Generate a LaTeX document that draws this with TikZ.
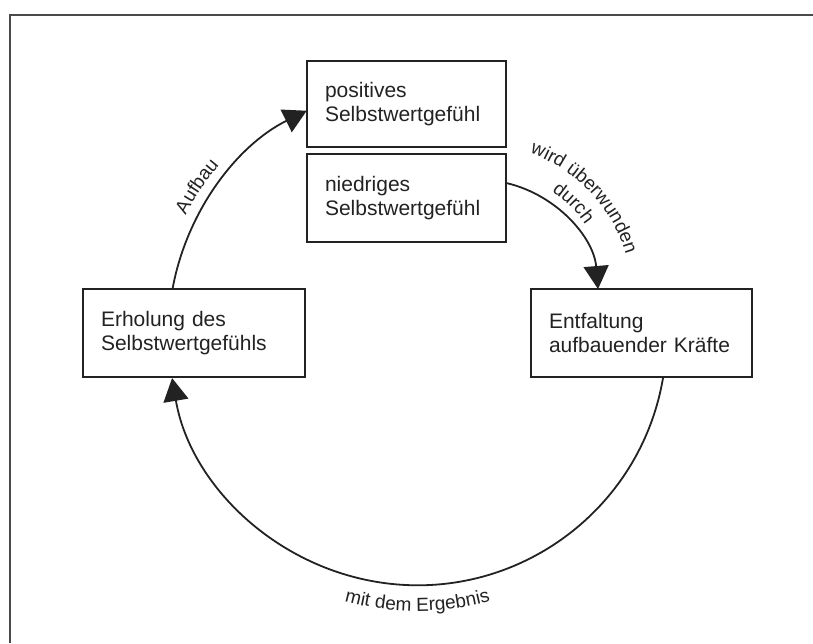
\documentclass[tikz,border=0pt]{standalone}
\usepackage{fontspec}
\setmainfont{Liberation Sans}
\usetikzlibrary{arrows.meta,decorations.text,calc}
\newcommand\boxfont{\fontsize{21}{23.5}\selectfont}
\newcommand\lblfont{\fontsize{19}{22}\selectfont}
\definecolor{inkc}{HTML}{222222}
\definecolor{framec}{HTML}{4A4A4A}
\begin{document}
\begin{tikzpicture}[x=1pt,y=1pt,
  statebox/.style={draw=inkc,line width=2.1pt,inner xsep=18pt,inner ysep=0pt,
    align=left,font=\boxfont,text=inkc,anchor=center},
  flow/.style={draw=inkc,line width=1.8pt,
    -{Triangle[length=23pt,width=25pt]}},
  arclabel/.style={decorate,decoration={text along path,text align=center,
    text color=inkc}}]
  \useasboundingbox (0,0) rectangle (813,643);
  % outer frame (top and left edges only)
  \draw[framec,line width=2.2pt] (10,0) -- (10,628) -- (813,628);

  % the four states
  \node[statebox,text width=163pt,minimum height=86pt] (pos) at (406.5,539)
    {positives\\Selbstwertgefühl};
  \node[statebox,text width=163pt,minimum height=88pt] (nied) at (406.5,445)
    {niedriges\\Selbstwertgefühl};
  \node[statebox,text width=186pt,minimum height=88pt] (erh) at (194,310)
    {Erholung des\\Selbstwertgefühls};
  \node[statebox,text width=185pt,minimum height=88pt] (ent) at (641.5,310)
    {Entfaltung\\aufbauender Kräfte};

  % centres of the circular connectors
  \coordinate (big) at (417.5,307.8);
  \coordinate (small) at (477.5,344);

  % connectors
  \draw[flow] ([xshift=-21.3pt]erh.north) arc[start angle=169.4,end angle=116.4,radius=249pt];
  \draw[flow] ([yshift=14.8pt]nied.east) arc[start angle=76.6,end angle=4.8,radius=119pt];
  \draw[flow] ([xshift=21.5pt]ent.south) arc[start angle=-9.66,end angle=-170.34,radius=249pt];

  % labels along the arcs
  \path[arclabel,decoration={text={|\lblfont|Aufbau}}]
    ([shift={(161:261pt)}]big) arc[start angle=161,end angle=131,radius=261pt];
  \path[arclabel,decoration={text={|\lblfont|mit dem Ergebnis}}]
    ([shift={(-112:276pt)}]big) arc[start angle=-112,end angle=-68,radius=276pt];
  \path[arclabel,decoration={text={|\lblfont|wird überwunden}}]
    ([shift={(84:155pt)}]small) arc[start angle=84,end angle=3,radius=155pt];
  \path[arclabel,decoration={text={|\lblfont|durch}}]
    ([shift={(75:131pt)}]small) arc[start angle=75,end angle=15,radius=131pt];
\end{tikzpicture}
\end{document}
